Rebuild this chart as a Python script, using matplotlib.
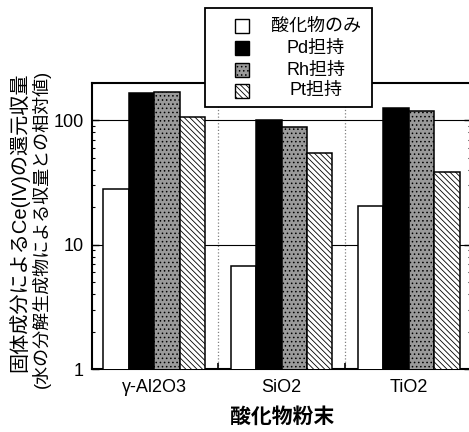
import matplotlib
matplotlib.use("Agg")
import matplotlib.pyplot as plt
import numpy as np
from matplotlib.patches import Rectangle
from matplotlib.ticker import FixedLocator, NullFormatter

plt.rcParams["font.family"] = ["Liberation Sans", "Noto Sans CJK JP"]
plt.rcParams["hatch.linewidth"] = 0.6

# データ
oxides = ["γ-Al2O3", "SiO2", "TiO2"]
series_names = ["酸化物のみ", "Pd担持", "Rh担持", "Pt担持"]
oxide_only = [28, 6.8, 20.5]
pd_loaded = [165, 100, 127]
rh_loaded = [168, 89, 118]
pt_loaded = [107, 55, 38.5]
series_values = [oxide_only, pd_loaded, rh_loaded, pt_loaded]

# 各系列のスタイル
styles = [
    dict(facecolor="white", hatch=None),
    dict(facecolor="black", hatch=None),
    dict(facecolor="#9a9a9a", hatch="...."),
    dict(facecolor="white", hatch="\\\\\\\\\\\\"),
]

W, H = 469, 432
fig = plt.figure(figsize=(W / 100, H / 100), dpi=100)


# ピクセル座標 -> 図座標
def px(x, y):
    return x / W, 1 - y / H


ax = fig.add_axes([92 / W, 1 - 369 / H, (471 - 92) / W, (369 - 83) / H])

x = np.arange(len(oxides))
bar_w = 0.2
for i, (vals, st) in enumerate(zip(series_values, styles)):
    ax.bar(x + (i - 1.5) * bar_w, vals, bar_w, bottom=0.0001,
           facecolor=st["facecolor"], hatch=st["hatch"],
           edgecolor="black", linewidth=1.1, zorder=3)

ax.set_yscale("log")
ax.set_ylim(1, 200)
ax.set_xlim(-0.49, 2.49)
ax.set_yticks([1, 10, 100])
ax.set_yticklabels(["1", "10", "100"])
ax.set_xticks(x)
ax.set_xticklabels(oxides)
ax.xaxis.set_minor_locator(FixedLocator([0.5, 1.5]))
ax.xaxis.set_minor_formatter(NullFormatter())

ax.tick_params(axis="x", which="major", length=0, labelsize=13, pad=7)
ax.tick_params(axis="x", which="minor", direction="in", length=4, width=1.2)
ax.tick_params(axis="y", which="major", direction="in", length=5, width=1,
               right=True, labelsize=13, pad=6)
ax.tick_params(axis="y", which="minor", direction="in", length=2.5, width=0.8,
               right=True)

ax.grid(which="major", axis="y", color="black", linewidth=0.8, zorder=1)
ax.grid(which="minor", axis="x", color="gray", linestyle=":", linewidth=0.9,
        zorder=1)
ax.set_axisbelow(True)
for s in ax.spines.values():
    s.set_linewidth(1.5)

# 軸ラベル
fig.text(*px(282, 417), "酸化物粉末", ha="center", va="center",
         fontsize=15, fontweight="bold")
fig.text(*px(19, 222), "固体成分によるCe(IV)の還元収量", rotation=90,
         ha="center", va="center", fontsize=14.5)
fig.text(*px(41, 229), "(水の分解生成物による収量との相対値)", rotation=90,
         ha="center", va="center", fontsize=13)

# 凡例（文字は中央揃え）
x0, y0 = px(205, 107)
x1, y1 = px(372, 8)
fig.add_artist(Rectangle((x0, y0), x1 - x0, y1 - y0, transform=fig.transFigure,
                         facecolor="white", edgecolor="black", linewidth=1.3,
                         zorder=10))
row_y = [26, 48, 70, 91]
for name, st, ry in zip(series_names, styles, row_y):
    sx, sy = px(235, ry + 7)
    fig.add_artist(Rectangle((sx, sy), 14 / W, 14 / H,
                             transform=fig.transFigure,
                             facecolor=st["facecolor"], hatch=st["hatch"],
                             edgecolor="black", linewidth=1, zorder=11))
    fig.text(*px(316, ry), name, ha="center", va="center", fontsize=13,
             zorder=12)

fig.savefig("out.png", dpi=100)
